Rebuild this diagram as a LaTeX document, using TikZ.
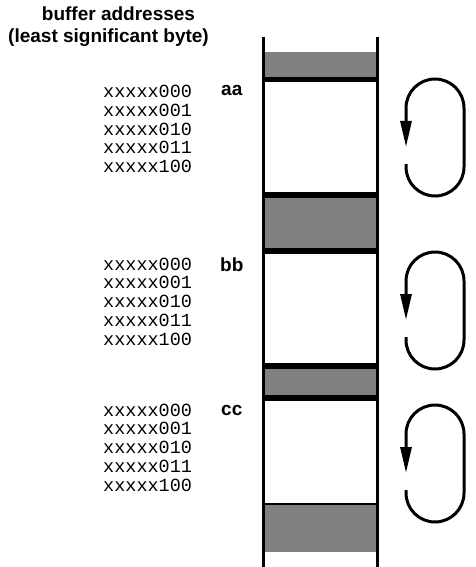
\documentclass[tikz,border=0pt]{standalone}
\usepackage{fontspec}
\setmainfont{Liberation Sans}
\newfontfamily\addrfont{Liberation Mono}
\usetikzlibrary{arrows.meta}
\def\loopback(#1,#2){\draw[loopline] (#1-29, #2+85) -- (#1-29, #2+88) arc (180:0:29) -- (#1+29, #2+29) arc (0:-180:29) -- (#1-29, #2+68);}

\begin{document}
\begin{tikzpicture}[x=1pt, y=-1pt,
	title/.style={font=\fontsize{19}{19}\selectfont\bfseries, inner sep=0pt, anchor=base},
	tag/.style={font=\fontsize{19}{19}\selectfont\bfseries, inner sep=0pt, anchor=base west},
	addr/.style={font=\addrfont\fontsize{18.5}{18.5}\selectfont, inner sep=0pt, anchor=base west},
	shade/.style={fill=black!50},
	loopline/.style={line width=3pt, -{Triangle[width=11pt, length=26pt]}}]
			%%%%% START %%%%%
			\useasboundingbox (0, 0) rectangle (475, 567);
			
			\node[title] (head) at (118.5, 21) {buffer addresses};
			\node[title] (subhead) at (108.5, 43) {(least significant byte)};
			
			% buffer column
			\fill[shade] (263, 52) rectangle (377, 78);
			\draw[line width=5pt] (263, 80) -- (377, 80);
			
			\fill[shade] (263, 198) rectangle (377, 248);
			\draw[line width=6pt] (263, 195) -- (377, 195);
			\draw[line width=6pt] (263, 251) -- (377, 251);
			
			\fill[shade] (263, 369) rectangle (377, 395);
			\draw[line width=6pt] (263, 366) -- (377, 366);
			\draw[line width=6pt] (263, 398) -- (377, 398);
			
			\fill[shade] (263, 504) rectangle (377, 552);
			\draw[line width=1.5pt] (263, 504) -- (377, 504);
			
			\draw[line width=3pt] (263, 37) -- (263, 567);
			\draw[line width=3pt] (377, 37) -- (377, 567);
			
			% block labels
			\node[tag] (aa) at (221, 96) {aa};
			\node[tag] (bb) at (220, 271) {bb};
			\node[tag] (cc) at (221, 415) {cc};
			
			% addresses
			\foreach \t [count=\i] in {000,001,010,011,100}
				\node[addr] (a\i) at (103, 97.5+18.8*\i-18.8) {xxxxx\t};
			\foreach \t [count=\i] in {000,001,010,011,100}
				\node[addr] (b\i) at (103, 270+18.8*\i-18.8) {xxxxx\t};
			\foreach \t [count=\i] in {000,001,010,011,100}
				\node[addr] (c\i) at (103, 416+18.8*\i-18.8) {xxxxx\t};
			
			% loops
			\loopback(435, 79)
			\loopback(435, 252)
			\loopback(435, 405)
			%%%%% END %%%%%
		\end{tikzpicture}
\end{document}
